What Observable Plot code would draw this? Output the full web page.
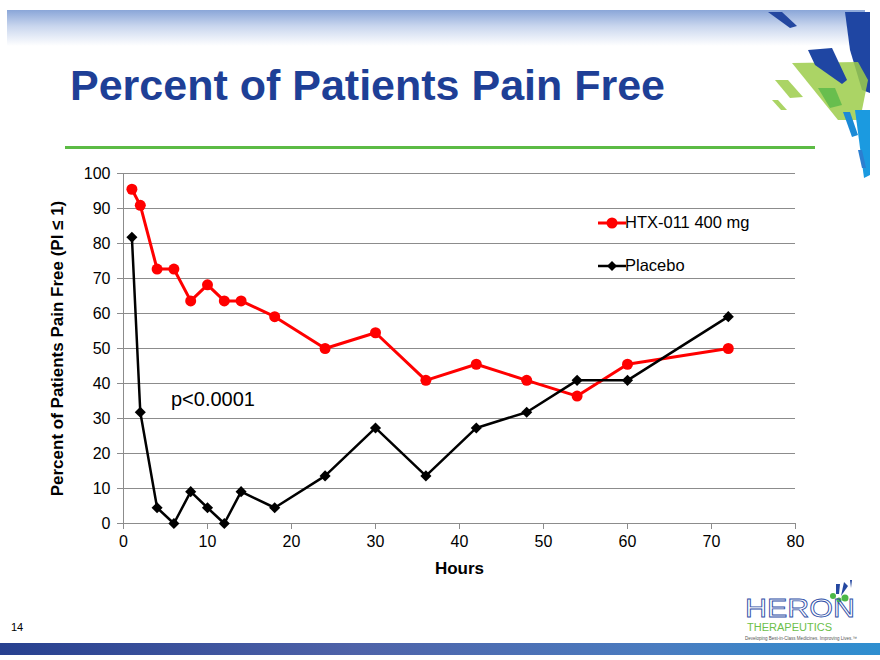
<!DOCTYPE html>
<html>
<head>
<meta charset="utf-8">
<script src="https://cdn.jsdelivr.net/npm/d3@7"></script>
<script src="https://cdn.jsdelivr.net/npm/@observablehq/plot@0.6"></script>
<style>
  html, body { margin: 0; padding: 0; background: #fff; }
  #page { position: relative; width: 880px; height: 660px; overflow: hidden; font-family: "Liberation Sans", Arial, sans-serif; }
  #topband { position: absolute; left: 7px; top: 10px; width: 858px; height: 36px;
    background: linear-gradient(to bottom, #8aa6d8 0%, #c9d6ee 45%, #ffffff 100%); }
  #title { position: absolute; left: 70px; top: 61px; font-family: "Liberation Sans", Arial, sans-serif;
    font-weight: bold; font-size: 43px; color: #1e3f96; white-space: nowrap; }
  #greenline { position: absolute; left: 65px; top: 146px; width: 750px; height: 3px; background: #5cbb45; }
  #chart { position: absolute; left: 0; top: 150px; }
  #pval { position: absolute; left: 171px; top: 388px; font-size: 20px; color: #000; }
  .leg { position: absolute; font-size: 16.5px; color: #000; white-space: nowrap; }
  #pagenum { position: absolute; left: 11px; top: 621px; font-size: 11px; color: #000; }
  #botband { position: absolute; left: 0; top: 643px; width: 880px; height: 12px;
    background: linear-gradient(to right, #27408f 0%, #4e62a8 40%, #4a7cc0 75%, #2e8fd0 100%); }
  #chart g[aria-label="y-axis label"] text, #chart g[aria-label="x-axis label"] text { font-weight: bold; font-size: 17px; }
</style>
</head>
<body>
<div id="page">
  <div id="topband"></div>
  <svg id="deco" width="880" height="200" style="position:absolute;left:0;top:0">
    <polygon points="768,12,782,12,797,26,790,28" fill="#2447a0"/>
    <polygon points="845,12,870,12,870,93,862,90,850,50" fill="#1f46a3"/>
    <polygon points="792,63,858,62,868,80,860,120,838,120" fill="#9ccc4a" opacity="0.85"/>
    <polygon points="775,80,788,80,803,97,790,98" fill="#9ccc4a" opacity="0.85"/>
    <polygon points="772,100,778,100,787,110,781,110" fill="#9ccc4a" opacity="0.85"/>
    <polygon points="808,50,832,48,847,80,842,84,815,65" fill="#1f46a3"/>
    <polygon points="818,88,835,88,842,105,830,108" fill="#58b848" opacity="0.8"/>
    <polygon points="843,112,850,112,858,135,852,137" fill="#1b8ad6"/>
    <polygon points="855,110,870,110,870,175,864,178" fill="#1b9ae0"/>
    <polygon points="858,150,862,150,866,168,862,168" fill="#2c7fd0"/>
  </svg>
  <div id="title">Percent of Patients Pain Free</div>
  <div id="greenline"></div>
  <div id="chart"></div>
  <div id="pval">p&lt;0.0001</div>
  <svg width="40" height="20" style="position:absolute;left:592px;top:213px">
    <line x1="6" y1="10" x2="34" y2="10" stroke="#ff0000" stroke-width="3"/>
    <circle cx="20" cy="10" r="5.5" fill="#ff0000"/>
  </svg>
  <svg width="40" height="20" style="position:absolute;left:592px;top:256px">
    <line x1="6" y1="10" x2="34" y2="10" stroke="#000" stroke-width="2.5"/>
    <polygon points="20,5,25,10,20,15,15,10" fill="#000"/>
  </svg>
  <div class="leg" style="left:625px;top:213px">HTX-011 400 mg</div>
  <div class="leg" style="left:625px;top:256px">Placebo</div>
  <div id="pagenum">14</div>
  <svg width="140" height="62" style="position:absolute;left:740px;top:580px">
    <polygon points="96,4,100,4,99,14,96,14" fill="#2447a0"/>
    <polygon points="104,2,108,6,101,16" fill="#2447a0"/>
    <polygon points="110,0,112,0,111,8" fill="#2447a0"/>
    <circle cx="93" cy="16" r="3" fill="#4cb847"/>
    <circle cx="105" cy="18" r="3.5" fill="#4cb847"/>
    <circle cx="99" cy="20" r="2.5" fill="#4cb847"/>
    <text x="5" y="37" font-size="25" fill="none" stroke="#3050a8" stroke-width="0.8" textLength="110" lengthAdjust="spacingAndGlyphs" font-family="Liberation Sans">HERON</text>
    <text x="7" y="51" font-size="10" fill="#6cc04a" textLength="85" lengthAdjust="spacingAndGlyphs" font-family="Liberation Sans">THERAPEUTICS</text>
    <text x="5" y="59.5" font-size="5" fill="#555" textLength="112" lengthAdjust="spacingAndGlyphs" font-family="Liberation Sans">Developing Best-in-Class Medicines. Improving Lives.™</text>
  </svg>
  <div id="botband"></div>
</div>
<script>
const hours   = [1, 2, 4, 6, 8, 10, 12, 14, 18, 24, 30, 36, 42, 48, 54, 60, 72];
const htx011  = [95.5, 90.9, 72.7, 72.7, 63.6, 68.2, 63.6, 63.6, 59.1, 50.0, 54.5, 40.9, 45.5, 40.9, 36.4, 45.5, 50.0];
const placebo = [81.8, 31.8, 4.5, 0, 9.1, 4.5, 0, 9.1, 4.5, 13.6, 27.3, 13.6, 27.3, 31.8, 40.9, 40.9, 59.1];
const xTicks  = [0, 10, 20, 30, 40, 50, 60, 70, 80];
const yTicks  = [0, 10, 20, 30, 40, 50, 60, 70, 80, 90, 100];

const htxData = hours.map((h, i) => ({hour: h, pct: htx011[i]}));
const plcData = hours.map((h, i) => ({hour: h, pct: placebo[i]}));

const chart = Plot.plot({
  width: 880,
  height: 440,
  marginLeft: 123,
  marginRight: 85,
  marginTop: 23,
  marginBottom: 67,
  style: {fontFamily: "'Liberation Sans', Arial, sans-serif", fontSize: "16px", color: "#000", background: "transparent"},
  x: {domain: [0, 80]},
  y: {domain: [0, 100]},
  marks: [
    Plot.gridY(yTicks, {stroke: "#8c8c8c", strokeOpacity: 1, strokeWidth: 1}),
    Plot.ruleX([0], {stroke: "#8c8c8c"}),
    Plot.ruleY([0], {stroke: "#8c8c8c"}),
    Plot.axisY({ticks: yTicks, tickSize: 6, tickPadding: 7, stroke: "#8c8c8c", fill: "#000",
      label: "Percent of Patients Pain Free (PI ≤ 1)", labelAnchor: "center", labelArrow: "none", labelOffset: 73}),
    Plot.axisX({ticks: xTicks, tickSize: 6, tickPadding: 6, stroke: "#8c8c8c", fill: "#000",
      label: "Hours", labelAnchor: "center", labelArrow: "none", labelOffset: 50}),
    Plot.line(htxData, {x: "hour", y: "pct", stroke: "#ff0000", strokeWidth: 3}),
    Plot.dot(htxData, {x: "hour", y: "pct", r: 5.5, fill: "#ff0000"}),
    Plot.line(plcData, {x: "hour", y: "pct", stroke: "#000", strokeWidth: 2.5}),
    Plot.dot(plcData, {x: "hour", y: "pct", symbol: "diamond2", r: 5, fill: "#000"})
  ]
});
document.getElementById("chart").appendChild(chart);
</script>
</body>
</html>
